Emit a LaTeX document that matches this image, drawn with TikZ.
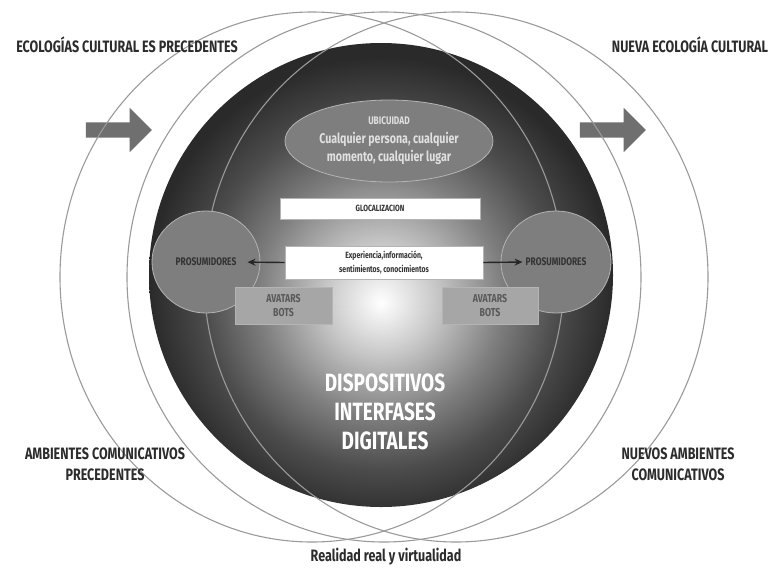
\documentclass[tikz,border=0pt]{standalone}
\usepackage{fontspec}
\setmainfont{Fira Sans}
\newfontfamily\condfont{Fira Sans}[FakeStretch=0.76]
\usetikzlibrary{shapes.geometric,shapes.arrows,arrows.meta}

\definecolor{spheredark}{HTML}{2A2A2A}
\definecolor{nodegray}{HTML}{7E7E7E}
\definecolor{boxgray}{HTML}{A6A6A6}
\definecolor{rimgray}{HTML}{B4B4B4}
\definecolor{linegray}{HTML}{9A9A9A}
\definecolor{arrowgray}{HTML}{6F6F6F}
\definecolor{labelgray}{HTML}{2C2C2C}

\pgfdeclareradialshading{spheregrad}{\pgfpoint{0bp}{-3bp}}{color(0bp)=(white); color(6bp)=(black!22); color(13bp)=(black!50); color(19bp)=(black!70); color(25bp)=(spheredark); color(50bp)=(spheredark)}

\tikzstyle{lbl} = [font=\condfont\bfseries\fontsize{16.5}{21}\selectfont, text=labelgray,
align=center, inner sep=0pt]
\tikzstyle{ring} = [draw=linegray, line width=1.1pt]
\tikzstyle{bigarrow} = [single arrow, fill=arrowgray, minimum height=66pt, minimum width=44pt,
single arrow head extend=14.5pt, inner xsep=0pt, inner ysep=7.5pt]
\tikzstyle{oval} = [ellipse, fill=nodegray, draw=rimgray, line width=0.8pt, inner sep=0pt]
\tikzstyle{whitebox} = [rectangle, fill=white, draw=rimgray, line width=0.6pt, inner sep=0pt,
font=\condfont\bfseries\fontsize{9}{13.5}\selectfont, text=black!80, align=center]
\tikzstyle{avbox} = [rectangle, fill=boxgray, draw=rimgray, line width=0.6pt, inner sep=0pt,
minimum height=37pt, font=\condfont\bfseries\fontsize{11.5}{13.5}\selectfont, text=black!65, align=center]
\tikzstyle{prostext} = [font=\condfont\bfseries\fontsize{11}{12}\selectfont, text=black!80, inner sep=1pt]
\tikzstyle{flowarrow} = [-{Stealth[length=8pt,width=7pt]}, line width=1.4pt, black!85]

\begin{document}
\begin{tikzpicture}[x=1pt, y=-1pt]
		\useasboundingbox (0,0) rectangle (771,568);
		% gray arrows
		\node [bigarrow] (arrL) at (115,130) {};
		\node [bigarrow] (arrR) at (609,130) {};
		% sphere
		\shade [shading=spheregrad] (381,275) circle (232);
		\draw [ring] (312,277) ellipse (252 and 265);
		\draw [ring] (456,277) ellipse (252 and 265);
		\draw [ring] (384,277) ellipse (257 and 265);
		
		\node [oval, minimum width=208pt, minimum height=82pt, text=black!12,
			font=\condfont\bfseries\fontsize{14}{18.5}\selectfont, align=center] (ubic) at (389,141)
			{{\fontsize{11}{18}\selectfont UBICUIDAD}\\Cualquier persona, cualquier\\momento, cualquier lugar};
		\node [whitebox, minimum width=200pt, minimum height=21pt] (glocal) at (380,208.5) {GLOCALIZACION};
		\node [oval, minimum width=108pt, minimum height=102pt] (prosL) at (206,262) {};
		\node [oval, minimum width=110pt, minimum height=102pt] (prosR) at (556,262) {};
		\node [prostext] (prosLtxt) at (prosL) {PROSUMIDORES};
		\node [prostext] (prosRtxt) at (prosR) {PROSUMIDORES};
		\node [whitebox, minimum width=198pt, minimum height=33pt] (exper) at (384,262.5)
			{Experiencia,información,\\sentimientos, conocimientos};
		\node [avbox, minimum width=97pt] (avatarL) at (283.5,305.5) {AVATARS\\BOTS};
		\node [avbox, minimum width=96pt] (avatarR) at (490,305.5) {AVATARS\\BOTS};
		\draw [flowarrow, shorten >=10pt] (exper.west) -- (prosLtxt.east);
		\draw [flowarrow, shorten >=2pt] (exper.east) -- (prosRtxt.west);
		
		\node [font=\condfont\bfseries\fontsize{25}{29}\selectfont, text=white, align=center] (dispo) at (385,412)
			{DISPOSITIVOS\\INTERFASES\\DIGITALES};
		% labels
		\node [lbl] (ecoPrev) at (127,45) {ECOLOGÍAS CULTURAL ES PRECEDENTES};
		\node [lbl] (ecoNew) at (690,45) {NUEVA ECOLOGÍA CULTURAL};
		\node [lbl] (ambPrev) at (105,464) {AMBIENTES COMUNICATIVOS\\PRECEDENTES};
		\node [lbl] (ambNew) at (678,464) {NUEVOS AMBIENTES\\COMUNICATIVOS};
		\node [lbl, font=\condfont\bfseries\fontsize{16.5}{20}\selectfont] (real) at (386,557) {Realidad real y virtualidad};
\end{tikzpicture}
\end{document}
